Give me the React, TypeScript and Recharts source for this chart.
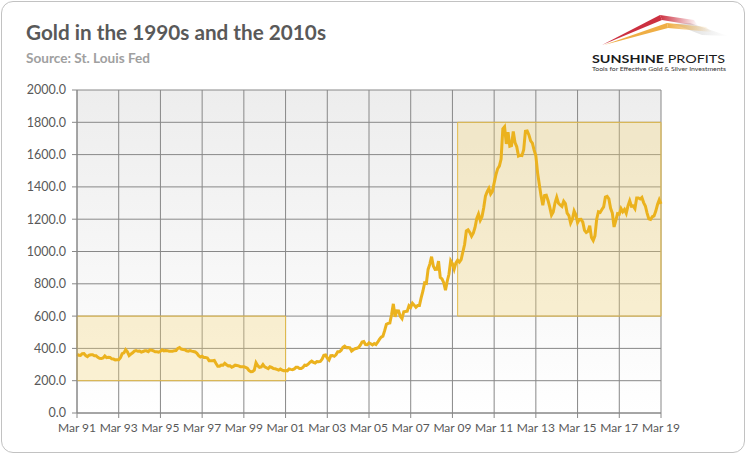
import { LineChart, Line, XAxis, YAxis, CartesianGrid, ReferenceArea } from 'recharts';

// monthly gold price (USD/oz), Mar 1991 - Dec 2000
const gold1990s = [
  363, 358, 357, 367, 368, 356, 349, 358, 360, 361,
  354, 354, 345, 338, 337, 341, 353, 343, 345, 344, 335, 334,
  329, 330, 330, 342, 367, 372, 392, 379, 355, 364, 373, 383,
  387, 382, 384, 377, 381, 385, 385, 380, 391, 389, 384, 379,
  379, 377, 382, 391, 385, 387, 386, 383, 383, 383, 386, 387,
  400, 405, 396, 393, 392, 385, 383, 387, 383, 381, 378, 369,
  355, 347, 352, 344, 344, 341, 324, 324, 323, 325, 306, 289,
  289, 297, 296, 308, 299, 292, 293, 284, 289, 296, 294, 292,
  287, 287, 286, 282, 277, 262, 256, 257, 265, 311, 293, 283,
  285, 300, 286, 280, 275, 286, 282, 275, 274, 270, 266, 272,
];

// Jan 2001 - Dec 2008
const gold2000s = [
  266, 262, 263, 261, 273, 270, 268, 273, 283, 283, 276, 276,
  282, 296, 294, 302, 314, 321, 314, 310, 319, 317, 319, 333,
  357, 359, 340, 328, 355, 356, 351, 360, 379, 379, 389, 407,
  414, 405, 406, 404, 384, 392, 398, 401, 406, 420, 439, 442,
  424, 423, 434, 429, 422, 430, 424, 438, 456, 470, 476, 510,
  549, 555, 557, 610, 676, 596, 633, 632, 599, 585, 627, 629,
  631, 665, 655, 680, 668, 655, 665, 665, 713, 754, 806, 803,
  889, 922, 968, 910, 889, 890, 940, 839, 830, 807, 761, 816,
];

// Jan 2009 - Mar 2019
const gold2010s = [
  859, 943, 925, 890, 929, 946, 934, 949, 997, 1043, 1127, 1134,
  1118, 1095, 1114, 1149, 1205, 1232, 1193, 1215, 1271, 1343, 1370, 1391,
  1356, 1372, 1424, 1474, 1512, 1529, 1572, 1759, 1772, 1666, 1739, 1652,
  1656, 1743, 1675, 1649, 1591, 1596, 1594, 1630, 1745, 1747, 1722, 1685,
  1671, 1628, 1593, 1487, 1414, 1343, 1286, 1347, 1349, 1316, 1275, 1225,
  1244, 1300, 1336, 1299, 1288, 1279, 1311, 1296, 1238, 1222, 1176, 1200,
  1251, 1227, 1179, 1198, 1199, 1182, 1131, 1118, 1125, 1159, 1086, 1068,
  1097, 1200, 1246, 1242, 1260, 1276, 1337, 1341, 1326, 1267, 1238, 1152,
  1192, 1234, 1231, 1266, 1246, 1260, 1236, 1283, 1314, 1280, 1282, 1265,
  1331, 1331, 1325, 1335, 1303, 1282, 1238, 1202, 1198, 1215, 1220, 1250,
  1291, 1320, 1295,
];

const xTickLabels = [
  'Mar 91', 'Mar 93', 'Mar 95', 'Mar 97', 'Mar 99', 'Mar 01', 'Mar 03', 'Mar 05',
  'Mar 07', 'Mar 09', 'Mar 11', 'Mar 13', 'Mar 15', 'Mar 17', 'Mar 19',
];
const yTicks = [0, 200, 400, 600, 800, 1000, 1200, 1400, 1600, 1800, 2000];

// highlighted periods: month index since Mar 1991 and price band
const decadeStart = [0, 219];
const decadeEnd = [120, 336];
const bandLow = [200, 600];
const bandHigh = [600, 1800];

const prices = [...gold1990s, ...gold2000s, ...gold2010s];
const data = prices.map((price, m) => ({ m, price }));
const xTicks = xTickLabels.map((_, i) => i * 24);

const W = 747;
const H = 455;
const FONT = 'Lato, "Open Sans", sans-serif';
const GOLD = '#ebb21e';
const AXIS_TEXT = '#595959';

const Logo = () => (
  <g>
    <defs>
      <linearGradient id="redTail" x1="0" x2="1" y1="0" y2="0">
        <stop offset="0" stopColor="#cc3040" />
        <stop offset="1" stopColor="#cc3040" stopOpacity="0" />
      </linearGradient>
      <linearGradient id="orangeTail" x1="0" x2="1" y1="0" y2="0">
        <stop offset="0" stopColor="#efae45" />
        <stop offset="1" stopColor="#efae45" stopOpacity="0" />
      </linearGradient>
      <linearGradient id="grayTail" x1="0" x2="1" y1="0" y2="0">
        <stop offset="0" stopColor="#d4d4d4" />
        <stop offset="1" stopColor="#d4d4d4" stopOpacity="0" />
      </linearGradient>
    </defs>
    <polygon points="674,24 690,23 728,36 702,35" fill="url(#grayTail)" />
    <polygon points="602,45 660,15 662,20" fill="#cc3040" />
    <polygon points="660,15 662,20 698,26 694,20" fill="url(#redTail)" />
    <polygon points="604,45 667,23 668,28" fill="#efae45" />
    <polygon points="667,23 668,28 712,32 706,27" fill="url(#orangeTail)" />
    <text x={592} y={62.5} fontSize={11.5} fill="#1a1a1a" textLength={133} lengthAdjust="spacingAndGlyphs">
      <tspan fontWeight={700}>SUNSHINE</tspan>
      <tspan> PROFITS</tspan>
    </text>
    <text x={592} y={71} fontSize={5.4} fill="#333" textLength={134} lengthAdjust="spacingAndGlyphs">
      Tools for Effective Gold &amp; Silver Investments
    </text>
  </g>
);

export default function App() {
  return (
    <div style={{ position: 'absolute', left: 0, top: 0, width: W, height: H, background: '#fff', fontFamily: FONT }}>
      <div
        style={{
          position: 'absolute', left: 1, top: 1, width: W - 3, height: H - 3,
          border: '1px solid #c2c2c2', borderRadius: 12, boxSizing: 'border-box',
        }}
      />
      <div style={{ position: 'absolute', left: 0, top: 0 }}>
        <LineChart width={W} height={H} data={data} margin={{ top: 90, right: 86, bottom: 12, left: 0 }}>
          <defs>
            <linearGradient id="plotBg" x1="0" x2="0" y1="0" y2="1">
              <stop offset="0" stopColor="#ededed" />
              <stop offset="1" stopColor="#ffffff" />
            </linearGradient>
          </defs>
          <CartesianGrid stroke="#888888" fill="url(#plotBg)" />
          <XAxis
            dataKey="m"
            type="number"
            domain={[0, 336]}
            ticks={xTicks}
            interval={0}
            tickFormatter={(v: number) => xTickLabels[v / 24]}
            height={30}
            tickSize={5}
            tickMargin={5}
            stroke="#888888"
            tick={{ fill: AXIS_TEXT, fontSize: 12, fontFamily: FONT }}
          />
          <YAxis
            domain={[0, 2000]}
            ticks={yTicks}
            interval={0}
            width={77}
            tickFormatter={(v: number) => v.toFixed(1)}
            tickSize={5}
            tickMargin={6}
            stroke="#888888"
            tick={{ fill: AXIS_TEXT, fontSize: 12.5, fontFamily: FONT }}
          />
          {decadeStart.map((x1, i) => (
            <ReferenceArea
              key={i}
              x1={x1}
              x2={decadeEnd[i]}
              y1={bandLow[i]}
              y2={bandHigh[i]}
              fill="#f5d56f"
              fillOpacity={0.3}
              stroke="#e3bb4a"
              strokeWidth={1}
              ifOverflow="visible"
            />
          ))}
          <Line
            type="linear"
            dataKey="price"
            stroke={GOLD}
            strokeWidth={3}
            dot={false}
            isAnimationActive={false}
          />
        </LineChart>
      </div>
      <svg width={W} height={H} style={{ position: 'absolute', left: 0, top: 0, pointerEvents: 'none' }}>
        <text x={26} y={40} fontSize={20} fontWeight={700} fill="#595959" fontFamily={FONT} textLength={300} lengthAdjust="spacingAndGlyphs">
          Gold in the 1990s and the 2010s
        </text>
        <text x={26} y={63} fontSize={13} fontWeight={700} fill="#a0a0a0" fontFamily={FONT} textLength={124} lengthAdjust="spacingAndGlyphs">
          Source: St. Louis Fed
        </text>
        <g fontFamily={FONT}>
          <Logo />
        </g>
      </svg>
    </div>
  );
}
